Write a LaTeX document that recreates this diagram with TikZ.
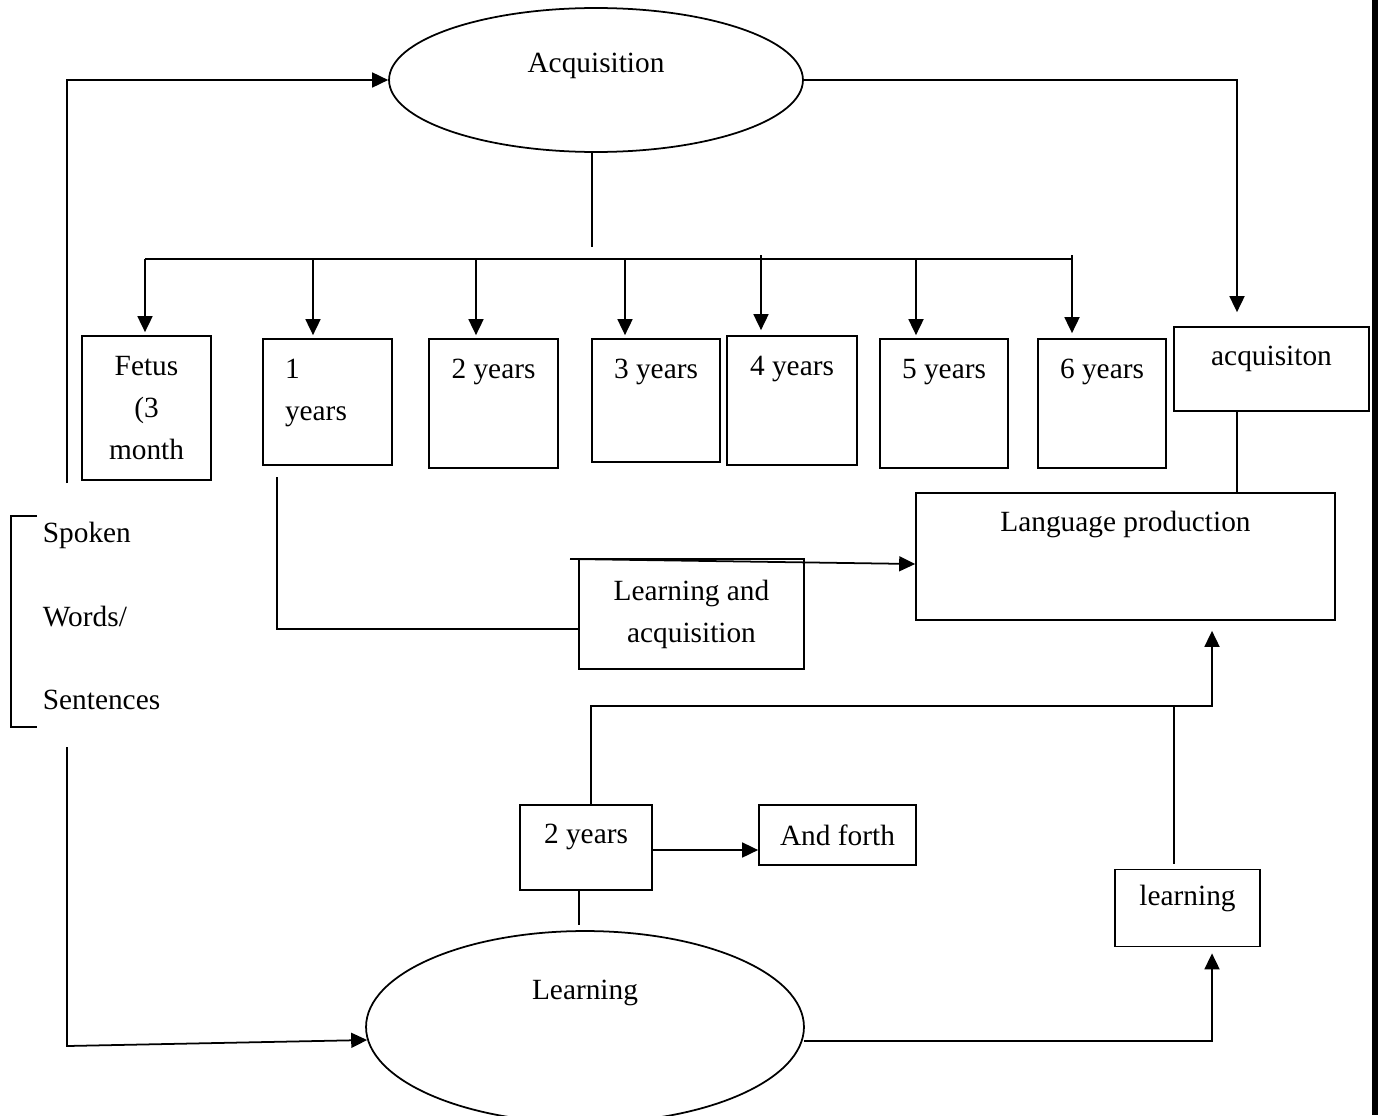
\documentclass[tikz,border=0pt]{standalone}
\usepackage{fontspec}
\setmainfont{Liberation Serif}
\usetikzlibrary{arrows.meta, calc, shapes.geometric}

\begin{document}
\begin{tikzpicture}[x=0.02cm, y=-0.02cm, line width=1pt,
  font=\fontsize{16.7}{23.9}\selectfont,
  arr/.style={-{Triangle[length=0.32cm, width=0.3cm]}},
  oval/.style 2 args={draw, ellipse, inner sep=0pt, minimum width=#1, minimum height=#2},
  box/.style 2 args={draw, inner sep=0pt, minimum width=#1, minimum height=#2, align=center},
  toptext/.style 2 args={text height=#1, text depth=#2}]

\useasboundingbox (0,0) rectangle (1378,1115);

\node[oval={8.28cm}{2.88cm}, toptext={0.2cm}{0.52cm}] (acq) at (596,80) {Acquisition};
\node[oval={8.76cm}{3.84cm}, toptext={0.3cm}{1.42cm}] (learn) at (585,1027) {Learning};

\node[box={2.58cm}{2.88cm}] (fetus) at (146.5,408) {Fetus\\(3\\month};
\node[box={2.58cm}{2.52cm}, text width=1.7cm, align=left, toptext={0.78cm}{1.74cm}] (one) at (327.5,402) {1\\years};
\node[box={2.58cm}{2.58cm}, toptext={0.78cm}{1.8cm}] (two) at (493.5,403.5) {2 years};
\node[box={2.56cm}{2.46cm}, toptext={0.78cm}{1.68cm}] (three) at (656,400.5) {3 years};
\node[box={2.6cm}{2.58cm}, toptext={0.78cm}{1.8cm}] (four) at (792,400.5) {4 years};
\node[box={2.56cm}{2.58cm}, toptext={0.78cm}{1.8cm}] (five) at (944,403.5) {5 years};
\node[box={2.56cm}{2.58cm}, toptext={0.78cm}{1.8cm}] (six) at (1102,403.5) {6 years};
\node[box={3.9cm}{1.68cm}, toptext={0.76cm}{0.92cm}] (acqbox) at (1271.5,369) {acquisiton};

\node[box={8.38cm}{2.54cm}, toptext={0.76cm}{1.78cm}] (prod) at (1125.5,556.5) {Language production};
\node[box={4.5cm}{2.2cm}] (mix) at (691.5,614) {Learning and\\acquisition};
\node[box={2.64cm}{1.7cm}, toptext={0.76cm}{0.94cm}] (later) at (586,847.5) {2 years};
\node[box={3.14cm}{1.2cm}] (forth) at (837.5,835) {And forth};
\node[box={2.9cm}{1.54cm}, toptext={0.72cm}{0.82cm}] (learnbox) at (1187.5,908) {learning};

\node[anchor=west, inner sep=0pt] (spoken) at (42,535) {Spoken};
\node[anchor=west, inner sep=0pt] (words) at (42,617) {Words/};
\node[anchor=west, inner sep=0pt] (sentences) at (42,700) {Sentences};

\coordinate (stem) at (592,247);
\coordinate (busL) at (145,259);
\coordinate (busR) at (1072,259);
\coordinate (leftup) at (67,483);
\coordinate (leftdown) at (67,747);
\coordinate (oneleg) at (277,477);
\coordinate (mixtop) at (570,559);
\coordinate (joint) at (1212,706);

\draw (acq.south -| stem) -- (stem);
\draw (busL) -- (busR);
\foreach \x/\b in {145/fetus, 313/one, 476/two, 625/three, 916/five}
  \draw[arr, shorten >=0.06cm] (\x,259) -- (\b.north -| \x,0);
\foreach \x/\b in {761/four, 1072/six}
  \draw[arr, shorten >=0.1cm] (\x,255) -- (\b.north -| \x,0);

\draw[arr] (leftup) |- (acq.west);
\draw[arr, shorten >=0.28cm] (acq.east) -| (acqbox.north -| 1237,0);
\draw (acqbox.south -| 1237,0) -- (prod.north -| 1237,0);

\draw (oneleg) |- (mix.west |- 0,629);
\draw[arr] (mixtop) -- (prod.west |- 0,564);

\draw (37,516) -- (11,516) -- (11,727) -- (37,727);

\draw[arr] (leftdown) -- (67,1046) -- ($(learn.west)+(2,13)$);
\draw[arr, shorten >=0.12cm] ($(learn.east)+(-1,14)$) -| (learnbox.south -| 1212,0);
\draw ($(learnbox.north -| 1174,0)+(0,-5)$) -- (joint -| 1174,0);
\draw[arr, shorten >=0.2cm] (later.north -| 591,0) |- (joint) -- (prod.south -| joint);
\draw[arr] (later.east |- 0,850) -- (forth.west |- 0,850);
\draw (later.south -| 579,0) -- (579,925);

\fill (1372,0) rectangle (1378,1115);
\end{tikzpicture}
\end{document}
